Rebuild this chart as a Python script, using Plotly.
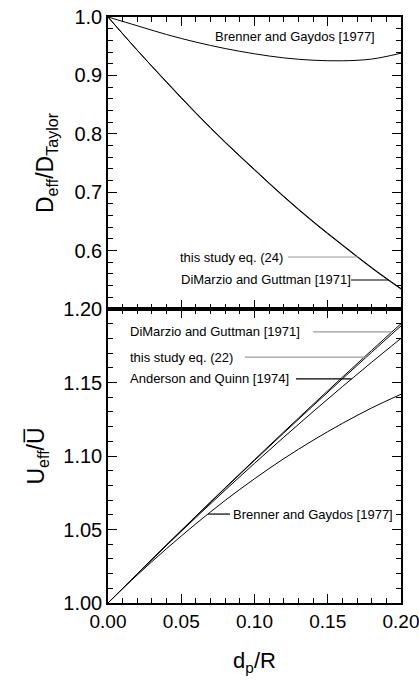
import numpy as np
import plotly.graph_objects as go

# ---- data ----
dp_R = [0.00, 0.02, 0.04, 0.06, 0.08, 0.10, 0.12, 0.14, 0.16, 0.18, 0.20]

# top panel: D_eff / D_Taylor
D_brenner = [1.000, 0.985, 0.970, 0.957, 0.946, 0.937, 0.930, 0.926, 0.925, 0.928, 0.938]
D_this24 = [1.000, 0.943, 0.889, 0.836, 0.786, 0.739, 0.693, 0.650, 0.610, 0.571, 0.535]
D_dimarzio = [1.000, 0.943, 0.888, 0.835, 0.785, 0.738, 0.692, 0.649, 0.609, 0.570, 0.534]

# bottom panel: U_eff / U_mean
U_dimarzio = [1.000, 1.0199, 1.0396, 1.0591, 1.0784, 1.0975, 1.1164, 1.1351, 1.1536, 1.1719, 1.1900]
U_this22 = [1.000, 1.0199, 1.0395, 1.0589, 1.0781, 1.0970, 1.1157, 1.1342, 1.1525, 1.1706, 1.1885]
U_anderson = [1.000, 1.0198, 1.0392, 1.0582, 1.0768, 1.0950, 1.1128, 1.1302, 1.1472, 1.1638, 1.1800]
U_brenner = [1.000, 1.0191, 1.0370, 1.0539, 1.0698, 1.0845, 1.0982, 1.1107, 1.1222, 1.1327, 1.1420]

top_ticks = [0.5, 0.6, 0.7, 0.8, 0.9, 1.0]
top_ticktext = ["", "0.6", "0.7", "0.8", "0.9", "1.0"]
bot_ticks = [1.00, 1.05, 1.10, 1.15, 1.20]
bot_ticktext = ["1.00", "1.05", "1.10", "1.15", "1.20"]
x_ticks = [0.00, 0.05, 0.10, 0.15, 0.20]
x_ticktext = ["0.00", "0.05", "0.10", "0.15", "0.20"]

FONT = "Liberation Sans, Arial, sans-serif"
GRAY = "#9a9a9a"

fig = go.Figure()
line = dict(color="black", width=1)
for ys in (D_brenner, D_this24, D_dimarzio):
    fig.add_trace(go.Scatter(x=dp_R, y=ys, mode="lines", line=dict(shape="spline", **line),
                             xaxis="x2", yaxis="y2", showlegend=False, hoverinfo="skip"))
for ys in (U_dimarzio, U_this22, U_anderson, U_brenner):
    fig.add_trace(go.Scatter(x=dp_R, y=ys, mode="lines", line=dict(shape="spline", **line),
                             xaxis="x", yaxis="y", showlegend=False, hoverinfo="skip"))


def x_on(series, yv):
    # x where a monotone part of the curve reaches yv
    xs = np.array(dp_R)
    ys = np.array(series)
    if ys[-1] < ys[0]:
        return float(np.interp(-yv, -ys, xs))
    return float(np.interp(yv, ys, xs))


annos = []
shapes = []


def label(text, x, y, xref, yref, anchor="left"):
    annos.append(dict(text=text, x=x, y=y, xref=xref, yref=yref, showarrow=False,
                      xanchor=anchor, yanchor="middle",
                      font=dict(family=FONT, size=13, color="black")))


def leader(x0, x1, y, xref, yref, color):
    shapes.append(dict(type="line", x0=x0, x1=x1, y0=y, y1=y, xref=xref, yref=yref,
                       line=dict(color=color, width=1.2)))


# top panel labels
label("Brenner and Gaydos [1977]", 0.1836, 0.966, "x2", "y2", anchor="right")
label("this study eq. (24)", 0.0475, 0.589, "x2", "y2")
leader(0.1229, x_on(D_this24, 0.589), 0.589, "x2", "y2", GRAY)
label("DiMarzio and Guttman [1971]", 0.0482, 0.5497, "x2", "y2")
leader(0.1659, x_on(D_dimarzio, 0.5497), 0.5497, "x2", "y2", "black")

# bottom panel labels
label("DiMarzio and Guttman [1971]", 0.0134, 1.1844, "x", "y")
leader(0.1400, x_on(U_dimarzio, 1.1844), 1.1844, "x", "y", GRAY)
label("this study eq. (22)", 0.0134, 1.1673, "x", "y")
leader(0.0935, x_on(U_this22, 1.1673), 1.1673, "x", "y", GRAY)
label("Anderson and Quinn [1974]", 0.0134, 1.1524, "x", "y")
leader(0.1283, x_on(U_anderson, 1.1524), 1.1524, "x", "y", "black")
label("Brenner and Gaydos [1977]", 0.0838, 1.0605, "x", "y")
leader(x_on(U_brenner, 1.0605), 0.0833, 1.0605, "x", "y", "black")

axis_common = dict(showline=True, linecolor="black", linewidth=1.5, mirror="ticks",
                   ticks="inside", ticklen=9, tickwidth=1.2, tickcolor="black",
                   showgrid=False, zeroline=False, automargin=False,
                   ticklabeloverflow="allow")
minor_common = dict(ticks="inside", ticklen=5, tickwidth=1, tickcolor="black", showgrid=False)
yfont = dict(family=FONT, size=20, color="black")
xfont = dict(family=FONT, size=19, color="black")

split = 294 / 586

fig.update_layout(
    width=419, height=685,
    margin=dict(l=108, r=18, t=17, b=82, autoexpand=False),
    paper_bgcolor="white", plot_bgcolor="white",
    font=dict(family=FONT, color="black"),
    xaxis=dict(range=[0, 0.2], tickmode="array", tickvals=x_ticks, ticktext=x_ticktext,
               anchor="y", domain=[0, 1], tickfont=xfont,
               minor=dict(tickmode="linear", tick0=0, dtick=0.01, **minor_common),
               title=dict(text="d<sub>p</sub>/R", font=dict(family=FONT, size=22), standoff=22),
               **axis_common),
    xaxis2=dict(range=[0, 0.2], tickmode="array", tickvals=x_ticks, showticklabels=False,
                anchor="y2", matches="x", tickfont=xfont,
                minor=dict(tickmode="linear", tick0=0, dtick=0.01, **minor_common),
                **axis_common),
    yaxis=dict(range=[1.0, 1.2], domain=[0, split], tickmode="array",
               tickvals=bot_ticks, ticktext=bot_ticktext, anchor="x", tickfont=yfont,
               minor=dict(tickmode="linear", tick0=1.0, dtick=0.01, **minor_common),
               title=dict(text="U<sub>eff</sub>/U\u0305", font=dict(family=FONT, size=23), standoff=12),
               **axis_common),
    yaxis2=dict(range=[0.5, 1.0], domain=[split, 1], tickmode="array",
                tickvals=top_ticks, ticktext=top_ticktext, anchor="x2", tickfont=yfont,
                minor=dict(tickmode="linear", tick0=0.5, dtick=0.02, **minor_common),
                title=dict(text="D<sub>eff</sub>/D<sub>Taylor</sub>", font=dict(family=FONT, size=23), standoff=14),
                **axis_common),
    annotations=annos,
    shapes=shapes,
)

# remove the browser's default 8 px page margin so the figure fills the window exactly,
# and hide the hover toolbar
fig.write_html("out.html", config={"displayModeBar": False},
               post_script="document.body.style.margin='0px';")
